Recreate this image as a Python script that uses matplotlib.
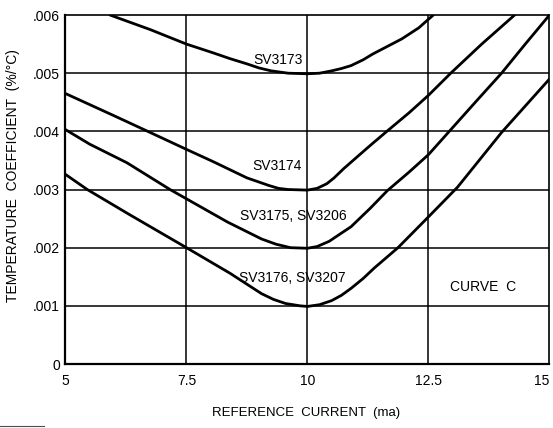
import numpy as np
import matplotlib
matplotlib.use("Agg")
import matplotlib.pyplot as plt
from matplotlib.lines import Line2D

plt.rcParams['font.family'] = ['Liberation Sans', 'DejaVu Sans']

# reference current (ma) / temperature coefficient (x 0.001 %/°C)
sv3173_x = [5.92, 6.75, 7.5, 8.05, 8.4, 8.75, 9.0, 9.25, 9.6, 10.0, 10.25, 10.5, 10.7,
            10.9, 11.15, 11.35, 11.65, 11.95, 12.3, 12.6]
sv3173_y = [6.0, 5.75, 5.5, 5.35, 5.25, 5.16, 5.09, 5.04, 5.0, 4.99, 5.0, 5.04, 5.08,
            5.13, 5.23, 5.33, 5.46, 5.59, 5.78, 6.0]

sv3174_x = [5.0, 5.5, 6.0, 6.7, 7.5, 8.05, 8.4, 8.75, 9.2, 9.4, 9.6, 10.0, 10.2, 10.4, 10.55,
            10.75, 10.97, 11.3, 11.64, 12.1, 12.5, 12.96, 13.6, 14.28]
sv3174_y = [4.65, 4.46, 4.27, 4.0, 3.69, 3.48, 3.34, 3.2, 3.07, 3.02, 3.0, 2.99, 3.02, 3.1, 3.2,
            3.36, 3.52, 3.76, 4.0, 4.32, 4.62, 5.0, 5.5, 6.0]

sv3175_x = [5.0, 5.5, 6.27, 7.16, 7.5, 8.35, 9.05, 9.35, 9.65, 10.0, 10.2, 10.45, 10.7,
            10.9, 11.3, 11.65, 12.1, 12.5, 12.93, 13.5, 14.01, 14.5, 15.0]
sv3175_y = [4.03, 3.78, 3.46, 3.0, 2.84, 2.44, 2.15, 2.06, 2.0, 1.99, 2.02, 2.11, 2.25,
            2.36, 2.68, 2.98, 3.3, 3.6, 4.0, 4.53, 5.0, 5.5, 6.0]

sv3176_x = [5.0, 5.45, 6.3, 7.5, 8.4, 9.05, 9.3, 9.55, 9.85, 10.0, 10.25, 10.5, 10.7,
            10.9, 11.15, 11.38, 11.87, 12.5, 13.1, 14.01, 15.0]
sv3176_y = [3.26, 3.0, 2.58, 2.0, 1.56, 1.21, 1.11, 1.04, 1.0, 0.99, 1.02, 1.09, 1.18,
            1.3, 1.47, 1.65, 2.0, 2.53, 3.04, 3.98, 4.9]

x_ticks = [5, 7.5, 10, 12.5, 15]
x_tick_labels = ['5', '7.5', '10', '12.5', '15']
y_ticks = [0, 1, 2, 3, 4, 5, 6]
y_tick_labels = ['0', '.001', '.002', '.003', '.004', '.005', '.006']

fig = plt.figure(figsize=(5.53, 4.28), dpi=100)
ax = fig.add_axes([0.1184, 0.1495, 0.8752, 0.8154])

# grid
for xv in x_ticks[1:-1]:
    ax.axvline(xv, color='black', lw=1.1, zorder=1)
for yv in y_ticks[1:-1]:
    ax.axhline(yv, color='black', lw=1.1, zorder=1)

for xs, ys in [(sv3173_x, sv3173_y), (sv3174_x, sv3174_y),
               (sv3175_x, sv3175_y), (sv3176_x, sv3176_y)]:
    ax.plot(xs, ys, color='black', lw=2.0, solid_capstyle='round',
            solid_joinstyle='round', zorder=3)

ax.set_xlim(5, 15)
ax.set_ylim(0, 6)
ax.set_xticks(x_ticks)
ax.set_xticklabels(x_tick_labels)
ax.set_yticks(y_ticks)
ax.set_yticklabels(y_tick_labels)
ax.tick_params(axis='x', length=0, pad=7, labelsize=10)
ax.tick_params(axis='y', length=0, pad=4, labelsize=10)
# last x label sits at the image edge; keep it inside
ax.get_xticklabels()[-1].set_horizontalalignment('right')

for side in ['left', 'bottom']:
    ax.spines[side].set_linewidth(1.6)
for side in ['right', 'top']:
    ax.spines[side].set_linewidth(1.2)

# curve labels
ax.text(9.39, 5.23, 'SV3173', fontsize=10, ha='center', va='center')
ax.text(9.38, 3.41, 'SV3174', fontsize=10, ha='center', va='center')
ax.text(9.71, 2.55, 'SV3175, SV3206', fontsize=10, ha='center', va='center')
ax.text(9.68, 1.48, 'SV3176, SV3207', fontsize=10, ha='center', va='center')
ax.text(13.63, 1.32, 'CURVE  C', fontsize=10, ha='center', va='center')

ax.text(0.497, -0.14, 'REFERENCE  CURRENT  (ma)', fontsize=9.5,
        ha='center', va='center', transform=ax.transAxes)
ax.text(-0.108, 0.54, 'TEMPERATURE  COEFFICIENT  (%/°C)', fontsize=10,
        ha='center', va='center', rotation=90, transform=ax.transAxes)

# small mark at bottom-left edge of the scan
fig.add_artist(Line2D([0.0, 0.08], [0.005, 0.005], color='0.3', lw=0.8))

fig.savefig('out.png', dpi=100)
